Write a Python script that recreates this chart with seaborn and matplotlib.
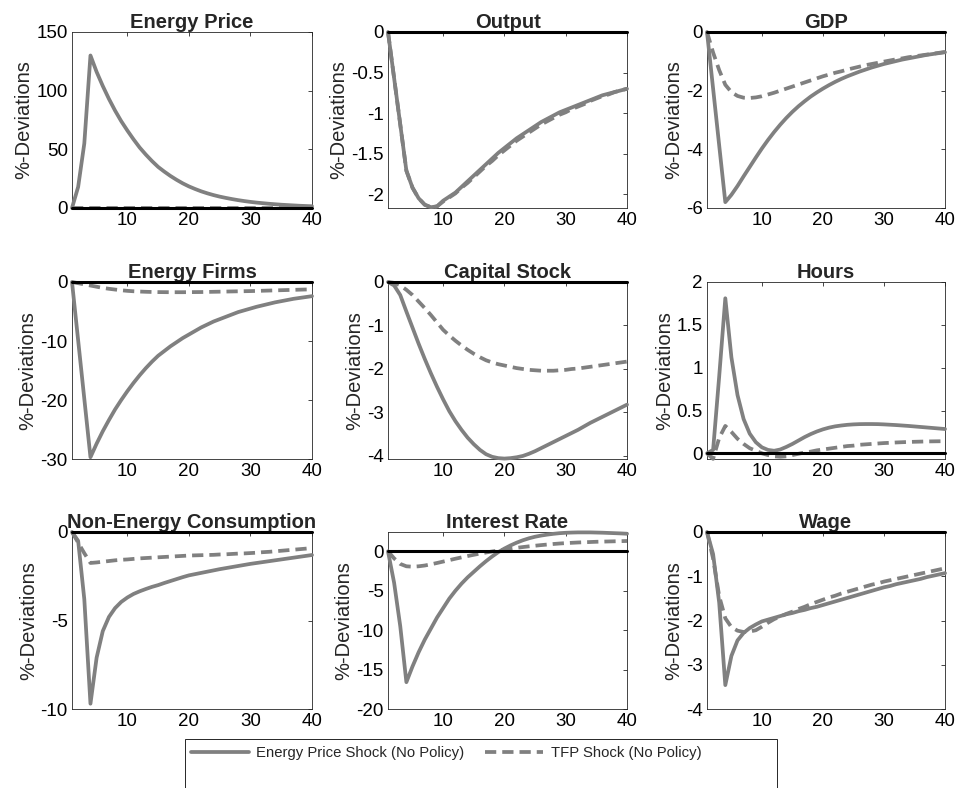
import numpy as np
import pandas as pd
import seaborn as sns
import matplotlib
matplotlib.use("Agg")
import matplotlib.pyplot as plt
from matplotlib.lines import Line2D
from matplotlib.patches import Rectangle

# ---------------- data ----------------
periods = list(range(1, 41))
shock_names = ["Energy Price Shock (No Policy)", "TFP Shock (No Policy)"]
titles = ["Energy Price", "Output", "GDP", "Energy Firms", "Capital Stock",
          "Hours", "Non-Energy Consumption", "Interest Rate", "Wage"]

energy_price_e = [0, 18, 55, 130, 116, 104, 93, 83, 74, 66, 58.5, 51.5, 45.5, 40, 35, 31, 27.3, 24, 21, 18.4,
                  16.2, 14.2, 12.5, 11, 9.7, 8.6, 7.6, 6.7, 5.9, 5.2, 4.6, 4.1, 3.6, 3.2, 2.8, 2.5, 2.2, 1.9, 1.7, 1.5]
energy_price_t = [0] * 40

output_e = [0, -0.57, -1.14, -1.71, -1.92, -2.05, -2.13, -2.16, -2.15, -2.08, -2.03, -1.98, -1.91, -1.84, -1.77,
            -1.70, -1.63, -1.56, -1.49, -1.43, -1.37, -1.31, -1.26, -1.21, -1.16, -1.11, -1.07, -1.03, -0.99, -0.96,
            -0.93, -0.90, -0.87, -0.84, -0.81, -0.78, -0.76, -0.74, -0.72, -0.70]
output_t = [0, -0.57, -1.14, -1.71, -1.92, -2.05, -2.13, -2.16, -2.15, -2.09, -2.04, -1.99, -1.92, -1.86, -1.79,
            -1.72, -1.65, -1.59, -1.52, -1.46, -1.40, -1.34, -1.29, -1.24, -1.19, -1.14, -1.10, -1.06, -1.02, -0.99,
            -0.95, -0.92, -0.89, -0.85, -0.82, -0.79, -0.77, -0.74, -0.72, -0.70]

gdp_e = [0, -1.93, -3.87, -5.8, -5.55, -5.25, -4.92, -4.6, -4.28, -3.97, -3.68, -3.41, -3.16, -2.93, -2.72, -2.53,
         -2.36, -2.2, -2.06, -1.93, -1.81, -1.7, -1.6, -1.51, -1.43, -1.35, -1.28, -1.21, -1.15, -1.09, -1.04, -0.99,
         -0.94, -0.9, -0.86, -0.82, -0.78, -0.75, -0.72, -0.69]
gdp_t = [0, -0.7, -1.3, -1.8, -2.05, -2.18, -2.24, -2.25, -2.23, -2.19, -2.13, -2.07, -2.0, -1.93, -1.86, -1.79,
         -1.72, -1.65, -1.58, -1.51, -1.45, -1.39, -1.34, -1.28, -1.23, -1.18, -1.13, -1.09, -1.05, -1.01, -0.97,
         -0.93, -0.9, -0.86, -0.83, -0.8, -0.77, -0.74, -0.71, -0.68]

firms_e = [0, -9.9, -19.8, -29.7, -27.4, -25.3, -23.4, -21.6, -20.0, -18.5, -17.1, -15.8, -14.6, -13.5, -12.5,
           -11.7, -10.9, -10.2, -9.5, -8.9, -8.3, -7.7, -7.2, -6.7, -6.3, -5.9, -5.5, -5.1, -4.8, -4.5, -4.2, -3.95,
           -3.7, -3.45, -3.25, -3.05, -2.85, -2.7, -2.55, -2.4]
firms_t = [0, -0.2, -0.4, -0.6, -0.8, -1.0, -1.15, -1.28, -1.4, -1.5, -1.57, -1.62, -1.66, -1.69, -1.71, -1.72,
           -1.73, -1.73, -1.73, -1.72, -1.71, -1.7, -1.68, -1.66, -1.64, -1.62, -1.6, -1.58, -1.56, -1.54, -1.51,
           -1.48, -1.45, -1.42, -1.39, -1.36, -1.33, -1.3, -1.27, -1.24]

capital_e = [0, -0.08, -0.3, -0.68, -1.05, -1.42, -1.77, -2.1, -2.41, -2.7, -2.97, -3.2, -3.4, -3.58, -3.73, -3.86,
             -3.96, -4.02, -4.05, -4.06, -4.05, -4.03, -4.0, -3.95, -3.89, -3.82, -3.75, -3.68, -3.61, -3.54, -3.47,
             -3.4, -3.32, -3.24, -3.17, -3.1, -3.03, -2.96, -2.89, -2.82]
capital_t = [0, -0.02, -0.08, -0.18, -0.3, -0.45, -0.6, -0.76, -0.93, -1.1, -1.23, -1.35, -1.46, -1.56, -1.65, -1.73,
             -1.8, -1.85, -1.89, -1.92, -1.95, -1.98, -2.0, -2.02, -2.03, -2.04, -2.04, -2.04, -2.03, -2.02, -2.0,
             -1.99, -1.97, -1.95, -1.93, -1.91, -1.89, -1.87, -1.85, -1.83]

hours_e = [0, 0.04, 0.9, 1.81, 1.12, 0.68, 0.4, 0.23, 0.13, 0.07, 0.04, 0.03, 0.045, 0.075, 0.11, 0.15, 0.19,
           0.225, 0.255, 0.28, 0.3, 0.315, 0.325, 0.333, 0.338, 0.341, 0.342, 0.342, 0.341, 0.338, 0.334, 0.33,
           0.325, 0.32, 0.314, 0.308, 0.302, 0.296, 0.29, 0.284]
hours_t = [0, -0.065, 0.18, 0.32, 0.25, 0.17, 0.11, 0.06, 0.03, 0.0, -0.02, -0.035, -0.04, -0.035, -0.02, -0.005,
           0.01, 0.02, 0.035, 0.045, 0.055, 0.065, 0.075, 0.085, 0.09, 0.1, 0.105, 0.11, 0.115, 0.12, 0.123, 0.127,
           0.13, 0.133, 0.135, 0.137, 0.139, 0.14, 0.141, 0.142]

cons_e = [0, -0.5, -3.8, -9.7, -7.1, -5.6, -4.8, -4.3, -3.95, -3.7, -3.5, -3.35, -3.22, -3.1, -3.0, -2.88, -2.77,
          -2.66, -2.55, -2.45, -2.38, -2.31, -2.24, -2.17, -2.1, -2.04, -1.98, -1.92, -1.86, -1.8, -1.75, -1.7, -1.65,
          -1.6, -1.55, -1.5, -1.45, -1.4, -1.35, -1.3]
cons_t = [0, -0.6, -1.2, -1.75, -1.72, -1.68, -1.64, -1.6, -1.57, -1.55, -1.52, -1.49, -1.47, -1.45, -1.43, -1.41,
          -1.39, -1.37, -1.35, -1.33, -1.32, -1.31, -1.3, -1.29, -1.27, -1.26, -1.24, -1.22, -1.21, -1.19, -1.17,
          -1.14, -1.12, -1.09, -1.06, -1.03, -1.0, -0.97, -0.94, -0.91]

rate_e = [0, -4.0, -9.5, -16.6, -14.6, -12.8, -11.2, -9.8, -8.4, -7.2, -6.0, -5.0, -4.1, -3.3, -2.6, -1.9, -1.25,
          -0.65, -0.1, 0.35, 0.75, 1.1, 1.4, 1.65, 1.85, 2.0, 2.12, 2.22, 2.3, 2.35, 2.38, 2.4, 2.4, 2.4, 2.38, 2.36,
          2.33, 2.3, 2.27, 2.23]
rate_t = [0, -0.9, -1.6, -1.9, -1.95, -1.9, -1.8, -1.65, -1.48, -1.3, -1.12, -0.94, -0.77, -0.6, -0.44, -0.29, -0.15,
          -0.02, 0.1, 0.21, 0.33, 0.44, 0.54, 0.63, 0.71, 0.79, 0.86, 0.93, 0.99, 1.04, 1.08, 1.12, 1.15, 1.18, 1.21,
          1.23, 1.25, 1.27, 1.29, 1.31]

wage_e = [0, -0.5, -1.6, -3.46, -2.8, -2.45, -2.28, -2.17, -2.09, -2.02, -1.98, -1.94, -1.9, -1.86, -1.83, -1.79,
          -1.76, -1.72, -1.69, -1.65, -1.61, -1.57, -1.53, -1.49, -1.45, -1.41, -1.37, -1.33, -1.29, -1.25, -1.22,
          -1.18, -1.15, -1.12, -1.09, -1.06, -1.02, -0.99, -0.96, -0.93]
wage_t = [0, -0.6, -1.45, -1.95, -2.15, -2.23, -2.26, -2.25, -2.22, -2.14, -2.05, -1.97, -1.91, -1.85, -1.8, -1.74,
          -1.69, -1.63, -1.58, -1.53, -1.48, -1.44, -1.39, -1.35, -1.31, -1.27, -1.23, -1.19, -1.16, -1.12, -1.09,
          -1.06, -1.03, -1.0, -0.97, -0.94, -0.91, -0.88, -0.85, -0.82]

x_ticks = [10, 20, 30, 40]
y_limits = [(0, 150), (-2.17, 0), (-6, 0), (-30, 0), (-4.07, 0), (-0.066, 2), (-10, 0), (-20, 2.45), (-4, 0)]
y_ticks = [[0, 50, 100, 150], [-2, -1.5, -1, -0.5, 0], [-6, -4, -2, 0], [-30, -20, -10, 0],
           [-4, -3, -2, -1, 0], [0, 0.5, 1, 1.5, 2], [-10, -5, 0], [-20, -15, -10, -5, 0], [-4, -3, -2, -1, 0]]

series = [(energy_price_e, energy_price_t), (output_e, output_t), (gdp_e, gdp_t), (firms_e, firms_t),
          (capital_e, capital_t), (hours_e, hours_t), (cons_e, cons_t), (rate_e, rate_t), (wage_e, wage_t)]

# ---------------- style ----------------
sns.set_style("white")
plt.rcParams["font.family"] = ["Liberation Sans", "DejaVu Sans"]
plt.rcParams["axes.unicode_minus"] = False

GRAY = "#808080"
LW = 2.7
dash_map = {shock_names[0]: "", shock_names[1]: (3.0, 1.6)}

W, H = 956, 788
fig = plt.figure(figsize=(W / 100, H / 100), dpi=100)

col_lr = [(72, 312), (388, 627), (707, 945)]
row_tb = [(32, 208), (282, 459), (532, 709)]


def fmt(v):
    return ("%g" % v)


for i, title in enumerate(titles):
    r, c = divmod(i, 3)
    l, rgt = col_lr[c]
    t, b = row_tb[r]
    ax = fig.add_axes([l / W, 1 - b / H, (rgt - l) / W, (b - t) / H])
    e_vals, t_vals = series[i]
    df = pd.DataFrame({
        "t": periods * 2,
        "value": list(e_vals) + list(t_vals),
        "shock": [shock_names[0]] * 40 + [shock_names[1]] * 40,
    })
    sns.lineplot(data=df, x="t", y="value", style="shock", dashes=dash_map, color=GRAY,
                 lw=LW, ax=ax, legend=False, estimator=None, sort=False, zorder=3)
    for ln in ax.lines:
        ln.set_clip_on(False)
    ax.axhline(0, color="black", lw=2.2, zorder=4, clip_on=False)
    ax.set_xlim(1, 40)
    ax.set_ylim(*y_limits[i])
    ax.set_xticks(x_ticks)
    ax.set_xticklabels([str(v) for v in x_ticks])
    ax.set_yticks(y_ticks[i])
    ax.set_yticklabels([fmt(v) for v in y_ticks[i]])
    ax.tick_params(direction="in", top=True, right=True, length=3, width=0.6,
                   labelsize=13.5, colors="#262626", labelcolor="black", pad=3)
    for sp in ax.spines.values():
        sp.set_visible(True)
        sp.set_color("#262626")
        sp.set_linewidth(0.6)
    ax.set_xlabel("")
    ax.set_ylabel("%-Deviations", fontsize=14.5, labelpad=2)
    ax.set_title(title, fontsize=14.5, fontweight="bold", pad=3)

# legend
handles = [Line2D([], [], color=GRAY, lw=LW, ls="-"),
           Line2D([], [], color=GRAY, lw=LW, dashes=(3.0, 1.6))]
leg = fig.legend(handles, shock_names, loc="center left",
                 bbox_to_anchor=(191 / W, 1 - 753 / H), frameon=False, ncol=2,
                 fontsize=10.7, handlelength=3.9, handletextpad=0.5, columnspacing=1.4,
                 borderaxespad=0, borderpad=0)
fig.patches.append(Rectangle((185 / W, 1 - 800 / H), (777 - 185) / W, (800 - 739) / H,
                             transform=fig.transFigure, fill=False, edgecolor="#262626", lw=0.7))

fig.savefig("out.png", dpi=100)
